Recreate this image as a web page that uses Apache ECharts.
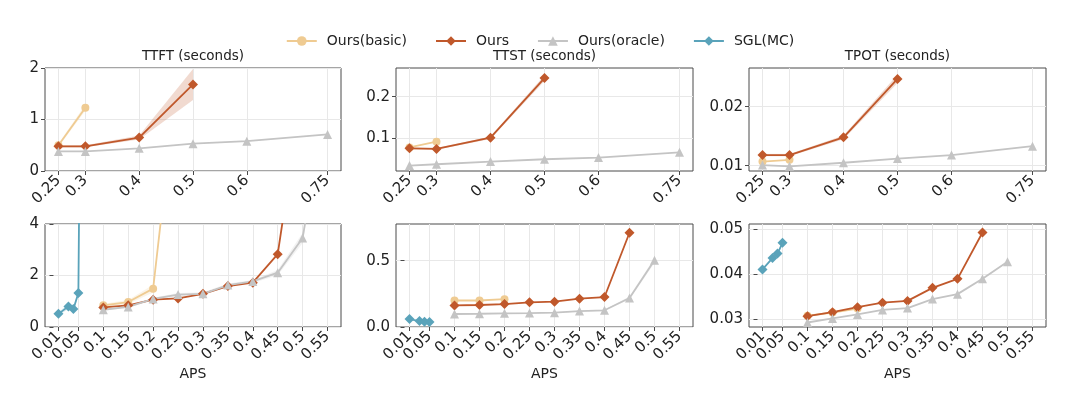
<!DOCTYPE html>
<html>
<head>
<meta charset="utf-8">
<script src="https://cdn.jsdelivr.net/npm/echarts@6/dist/echarts.min.js"></script>
<style>
html,body{margin:0;padding:0;background:#ffffff;}
#chart{width:1080px;height:397px;}
</style>
</head>
<body>
<div id="chart"></div>
<script>
// x positions (APS)
var topBasicX = [0.25, 0.3];
var topOursX = [0.25, 0.3, 0.4, 0.5];
var topOracleX = [0.25, 0.3, 0.4, 0.5, 0.6, 0.75];
var botSglX = [0.01, 0.03, 0.04, 0.05, 0.06];
var botBasicX = [0.1, 0.15, 0.2, 0.25];
var botOursX = [0.1, 0.15, 0.2, 0.25, 0.3, 0.35, 0.4, 0.45, 0.5];
var botOracleX = [0.1, 0.15, 0.2, 0.25, 0.3, 0.35, 0.4, 0.45, 0.5, 0.55];

// tick labels
var topTicks = [0.25, 0.3, 0.4, 0.5, 0.6, 0.75];
var botTicks = [0.01, 0.05, 0.1, 0.15, 0.2, 0.25, 0.3, 0.35, 0.4, 0.45, 0.5, 0.55];
var titles = ['TTFT (seconds)', 'TTST (seconds)', 'TPOT (seconds)'];

// top row: TTFT / TTST / TPOT
var ttftTopBasic = [0.50, 1.23];
var ttftTopOurs = [0.48, 0.48, 0.65, 1.68];
var ttftTopOracle = [0.38, 0.38, 0.44, 0.53, 0.58, 0.71];
var ttstTopBasic = [0.078, 0.092];
var ttstTopOurs = [0.076, 0.0745, 0.1015, 0.2448];
var ttstTopOracle = [0.0344, 0.0376, 0.044, 0.0496, 0.0536, 0.0664];
var tpotTopBasic = [0.0107, 0.0110];
var tpotTopOurs = [0.0118, 0.0118, 0.0148, 0.0247];
var tpotTopOracle = [0.0101, 0.0099, 0.0105, 0.0112, 0.0118, 0.0133];

// bottom row
var ttftBotSgl = [0.51, 0.80, 0.70, 1.32, 24];
var ttftBotBasic = [0.84, 0.97, 1.49, 10];
var ttftBotOurs = [0.76, 0.84, 1.06, 1.11, 1.29, 1.59, 1.72, 2.83, 9.3];
var ttftBotOracle = [0.67, 0.78, 1.09, 1.26, 1.29, 1.63, 1.77, 2.11, 3.46, 9.2];
var ttstBotSgl = [0.060, 0.045, 0.040, 0.038, null];
var ttstBotBasic = [0.20, 0.20, 0.21, null];
var ttstBotOurs = [0.163, 0.166, 0.173, 0.186, 0.191, 0.214, 0.226, 0.711, null];
var ttstBotOracle = [0.098, 0.100, 0.103, 0.105, 0.108, 0.120, 0.126, 0.219, 0.503, null];
var tpotBotSgl = [0.0411, 0.0436, 0.0446, 0.0470, null];
var tpotBotBasic = [0.0308, 0.0315, 0.0324, null];
var tpotBotOurs = [0.0307, 0.0316, 0.0327, 0.0337, 0.0341, 0.0370, 0.0390, 0.0493, null];
var tpotBotOracle = [0.0293, 0.0302, 0.0311, 0.0321, 0.0325, 0.0345, 0.0356, 0.0390, 0.0428, null];

// spread (half width of shaded band)
var ttftTopOursBand = [0.02, 0.02, 0.04, 0.30];
var ttftTopBasicBand = [0.03, 0.06];
var ttstTopOursBand = [0.002, 0.002, 0.003, 0.007];
var tpotTopOursBand = [0.0002, 0.0002, 0.0003, 0.0007];
var ttftBotSglBand = [0.05, 0.10, 0.10, 0.10, 0];
var ttftBotBasicBand = [0.06, 0.08, 0.15, 0];
var ttftBotOracleBand = [0.03, 0.03, 0.05, 0.06, 0.06, 0.06, 0.06, 0.10, 0.20, 0];
var ttstBotOracleBand = [0.003, 0.003, 0.003, 0.003, 0.003, 0.004, 0.004, 0.012, 0.02, 0];

var COLORS = {basic: '#EFCB92', ours: '#C0582B', oracle: '#C4C4C4', sgl: '#5AA3BA'};
var FONT = 'DejaVu Sans';

var chart = echarts.init(document.getElementById('chart'));

// plot boxes
var boxes = [
	{left: 45, top: 68, width: 296, height: 103},
	{left: 396, top: 68, width: 297, height: 103},
	{left: 749, top: 68, width: 297, height: 103},
	{left: 45, top: 224, width: 296, height: 103},
	{left: 396, top: 224, width: 297, height: 103},
	{left: 749, top: 224, width: 297, height: 103}
];
var yRanges = [[0, 2], [0.0214, 0.269], [0.0091, 0.02656], [0, 4], [0, 0.777], [0.0283, 0.05118]];
var yTicks = [[0, 1, 2], [0.1, 0.2], [0.01, 0.02], [0, 2, 4], [0, 0.5], [0.03, 0.04, 0.05]];
var yFmt = [
	function(v){ return String(v); },
	function(v){ return v.toFixed(1); },
	function(v){ return v.toFixed(2); },
	function(v){ return String(v); },
	function(v){ return v.toFixed(1); },
	function(v){ return v.toFixed(2); }
];

var grids = [], xAxes = [], yAxes = [], series = [];

function xLabelStyle(values){
	return {rotate: 45, margin: 7, fontFamily: FONT, fontSize: 15, color: '#222',
		hideOverlap: false, showMinLabel: true, showMaxLabel: true,
		customValues: values, formatter: function(v){ return String(v); }};
}

for (var g = 0; g < 6; g++) {
	var b = boxes[g];
	grids.push({left: b.left, top: b.top, width: b.width, height: b.height, show: true,
		borderColor: '#4a4a4a', borderWidth: 1, backgroundColor: 'transparent', containLabel: false});
	var isTop = g < 3;
	var ticks = isTop ? topTicks : botTicks;
	xAxes.push({
		type: 'value', gridIndex: g, position: 'bottom',
		min: isTop ? 0.225 : -0.017, max: isTop ? 0.775 : 0.577,
		name: isTop ? '' : 'APS', nameLocation: 'middle', nameGap: 40,
		nameTextStyle: {fontFamily: FONT, fontSize: 14, color: '#222'},
		axisLine: {show: false},
		axisTick: {show: true, length: 4, lineStyle: {color: '#4a4a4a'}, customValues: ticks},
		axisLabel: xLabelStyle(isTop ? ticks : ticks.slice(1)),
		splitLine: {show: true, lineStyle: {color: '#e8e8e8', width: 1}}
	});
	yAxes.push({
		type: 'value', gridIndex: g,
		min: yRanges[g][0], max: yRanges[g][1],
		axisLine: {show: false},
		axisTick: {show: true, length: 4, lineStyle: {color: '#4a4a4a'}, customValues: yTicks[g]},
		axisLabel: {margin: 6, fontFamily: FONT, fontSize: 15, color: '#222',
			showMinLabel: true, showMaxLabel: true,
			customValues: yTicks[g], formatter: yFmt[g]},
		splitLine: {show: true, lineStyle: {color: '#e8e8e8', width: 1}}
	});
}
// the first bottom-row label sits too close to the next one, so it gets its own overlay axis
for (var g2 = 3; g2 < 6; g2++) {
	xAxes.push({
		type: 'value', gridIndex: g2, position: 'bottom', offset: 0,
		min: -0.017, max: 0.577,
		axisLine: {show: false}, axisTick: {show: false}, splitLine: {show: false},
		axisLabel: xLabelStyle([botTicks[0]])
	});
}

function pairs(xs, ys){
	var out = [];
	for (var i = 0; i < xs.length; i++) out.push([xs[i], ys[i]]);
	return out;
}

function line(name, g, xs, ys, color, symbol, size){
	series.push({
		name: name, type: 'line', xAxisIndex: g, yAxisIndex: g,
		data: pairs(xs, ys), symbol: symbol, symbolSize: size,
		lineStyle: {color: color, width: 1.8}, itemStyle: {color: color},
		connectNulls: false, clip: true, z: 3, animation: false
	});
}

// shaded spread, drawn as quads between neighbouring points
function band(g, xs, ys, spread, color){
	var pts = [];
	for (var i = 0; i < xs.length; i++) {
		if (ys[i] == null) continue;
		pts.push([xs[i], ys[i] - spread[i], ys[i] + spread[i]]);
	}
	series.push({
		type: 'custom', xAxisIndex: g, yAxisIndex: g, silent: true, z: 1, clip: true, animation: false,
		data: pts.slice(0, pts.length - 1),
		renderItem: function(params, api){
			var a = pts[params.dataIndex], c = pts[params.dataIndex + 1];
			var poly = [api.coord([a[0], a[1]]), api.coord([c[0], c[1]]), api.coord([c[0], c[2]]), api.coord([a[0], a[2]])];
			return {type: 'polygon', shape: {points: poly}, style: {fill: color, opacity: 0.22}};
		}
	});
}

band(0, topOursX, ttftTopOurs, ttftTopOursBand, COLORS.ours);
band(0, topBasicX, ttftTopBasic, ttftTopBasicBand, COLORS.basic);
band(1, topOursX, ttstTopOurs, ttstTopOursBand, COLORS.ours);
band(2, topOursX, tpotTopOurs, tpotTopOursBand, COLORS.ours);
band(3, botSglX, ttftBotSgl, ttftBotSglBand, COLORS.sgl);
band(3, botBasicX, ttftBotBasic, ttftBotBasicBand, COLORS.basic);
band(3, botOracleX, ttftBotOracle, ttftBotOracleBand, COLORS.oracle);
band(4, botOracleX, ttstBotOracle, ttstBotOracleBand, COLORS.oracle);

// top row
line('Ours(basic)', 0, topBasicX, ttftTopBasic, COLORS.basic, 'circle', 8);
line('Ours', 0, topOursX, ttftTopOurs, COLORS.ours, 'diamond', 10);
line('Ours(oracle)', 0, topOracleX, ttftTopOracle, COLORS.oracle, 'triangle', 9);
line('Ours(basic)', 1, topBasicX, ttstTopBasic, COLORS.basic, 'circle', 8);
line('Ours', 1, topOursX, ttstTopOurs, COLORS.ours, 'diamond', 10);
line('Ours(oracle)', 1, topOracleX, ttstTopOracle, COLORS.oracle, 'triangle', 9);
line('Ours(basic)', 2, topBasicX, tpotTopBasic, COLORS.basic, 'circle', 8);
line('Ours', 2, topOursX, tpotTopOurs, COLORS.ours, 'diamond', 10);
line('Ours(oracle)', 2, topOracleX, tpotTopOracle, COLORS.oracle, 'triangle', 9);

// bottom row
var botSets = [
	[ttftBotBasic, ttftBotOurs, ttftBotOracle, ttftBotSgl],
	[ttstBotBasic, ttstBotOurs, ttstBotOracle, ttstBotSgl],
	[tpotBotBasic, tpotBotOurs, tpotBotOracle, tpotBotSgl]
];
for (var k = 0; k < 3; k++) {
	var s = botSets[k];
	line('Ours(basic)', 3 + k, botBasicX, s[0], COLORS.basic, 'circle', 8);
	line('Ours', 3 + k, botOursX, s[1], COLORS.ours, 'diamond', 10);
	line('Ours(oracle)', 3 + k, botOracleX, s[2], COLORS.oracle, 'triangle', 9);
	line('SGL(MC)', 3 + k, botSglX, s[3], COLORS.sgl, 'diamond', 10);
}

var titleList = [];
for (var t = 0; t < 3; t++) {
	titleList.push({text: titles[t], left: boxes[t].left + boxes[t].width / 2, top: 49, textAlign: 'center',
		padding: 0, textStyle: {fontFamily: FONT, fontSize: 13.5, fontWeight: 'normal', color: '#222'}});
}

var option = {
	backgroundColor: '#ffffff',
	animation: false,
	title: titleList,
	legend: {
		data: ['Ours(basic)', 'Ours', 'Ours(oracle)', 'SGL(MC)'],
		top: 29, left: 'center', itemWidth: 30, itemHeight: 12, itemGap: 28,
		textStyle: {fontFamily: FONT, fontSize: 14, color: '#222', padding: [0, 0, 0, 5]}
	},
	grid: grids,
	xAxis: xAxes,
	yAxis: yAxes,
	series: series
};

chart.setOption(option);
</script>
</body>
</html>
